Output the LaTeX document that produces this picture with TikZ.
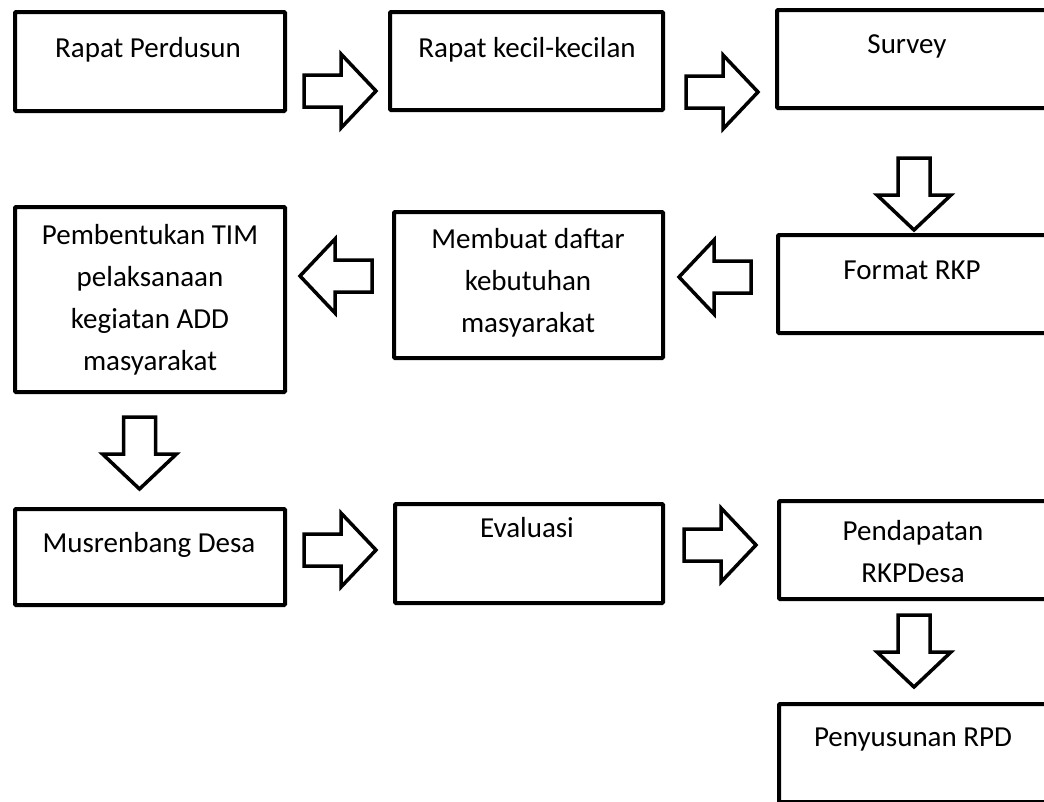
\documentclass[tikz,border=0pt]{standalone}
\usepackage{fontspec}
\setmainfont{Carlito}
\begin{document}
\begin{tikzpicture}[x=1pt,y=-1pt,
  box/.style={draw=black, line width=4pt, rectangle, rounded corners=1pt, inner sep=0pt, fill=white},
  lbl/.style={font=\fontsize{29}{42}\selectfont, inner sep=0pt, anchor=base, align=center},
  arrowline/.style={draw=black, line width=3.5pt, line join=miter, fill=white},
  barrow/.pic={\draw[arrowline] (0,0) -- (-35,37) -- (-35,16) -- (-72,16) -- (-72,-16) -- (-35,-16) -- (-35,-37) -- cycle;}]
\useasboundingbox (0,0) rectangle (1044,801);
\fill[white] (0,0) rectangle (1044,801);
\begin{scope}
\clip (0,0) rectangle (1044,801);
% boxes
\node[box, minimum width=270pt, minimum height=99pt] (b1) at (150,61.5) {};
\node[box, minimum width=273pt, minimum height=98pt] (b2) at (526.5,61) {};
\node[box, minimum width=293pt, minimum height=98pt] (b3) at (923.5,59) {};
\node[box, minimum width=292pt, minimum height=98pt] (b4) at (924,284) {};
\node[box, minimum width=269pt, minimum height=146pt] (b5) at (528.5,285) {};
\node[box, minimum width=270pt, minimum height=185pt] (b6) at (150,299.5) {};
\node[box, minimum width=270pt, minimum height=96pt] (b7) at (150,557) {};
\node[box, minimum width=268pt, minimum height=99pt] (b8) at (529,553.5) {};
\node[box, minimum width=291pt, minimum height=98pt] (b9) at (924.5,550) {};
\node[box, minimum width=291pt, minimum height=98pt] (b10) at (924.5,753) {};
% texts
\node[lbl] (t1) at (148,57) {Rapat Perdusun};
\node[lbl] (t2) at (527,57) {Rapat kecil-kecilan};
\node[lbl] (t3) at (907,53) {Survey};
\node[lbl] (t4) at (912,279) {Format RKP};
\node[lbl] (t5) at (528,332) {Membuat daftar\\kebutuhan\\masyarakat};
\node[lbl] (t6) at (150,370) {Pembentukan TIM\\pelaksanaan\\kegiatan ADD\\masyarakat};
\node[lbl] (t7) at (149,552) {Musrenbang Desa};
\node[lbl] (t8) at (527,537) {Evaluasi};
\node[lbl] (t9) at (913,582) {Pendapatan\\RKPDesa};
\node[lbl] (t10) at (913,746) {Penyusunan RPD};
% block arrows
\pic at (376,91) {barrow};
\pic at (758,92) {barrow};
\pic[rotate=-90] at (914,230) {barrow};
\pic[rotate=180] at (679,277) {barrow};
\pic[rotate=180] at (300,276) {barrow};
\pic[rotate=-90] at (139.5,489) {barrow};
\pic at (376,550) {barrow};
\pic at (756,545) {barrow};
\pic[rotate=-90] at (914,687) {barrow};
\end{scope}
\end{tikzpicture}
\end{document}
